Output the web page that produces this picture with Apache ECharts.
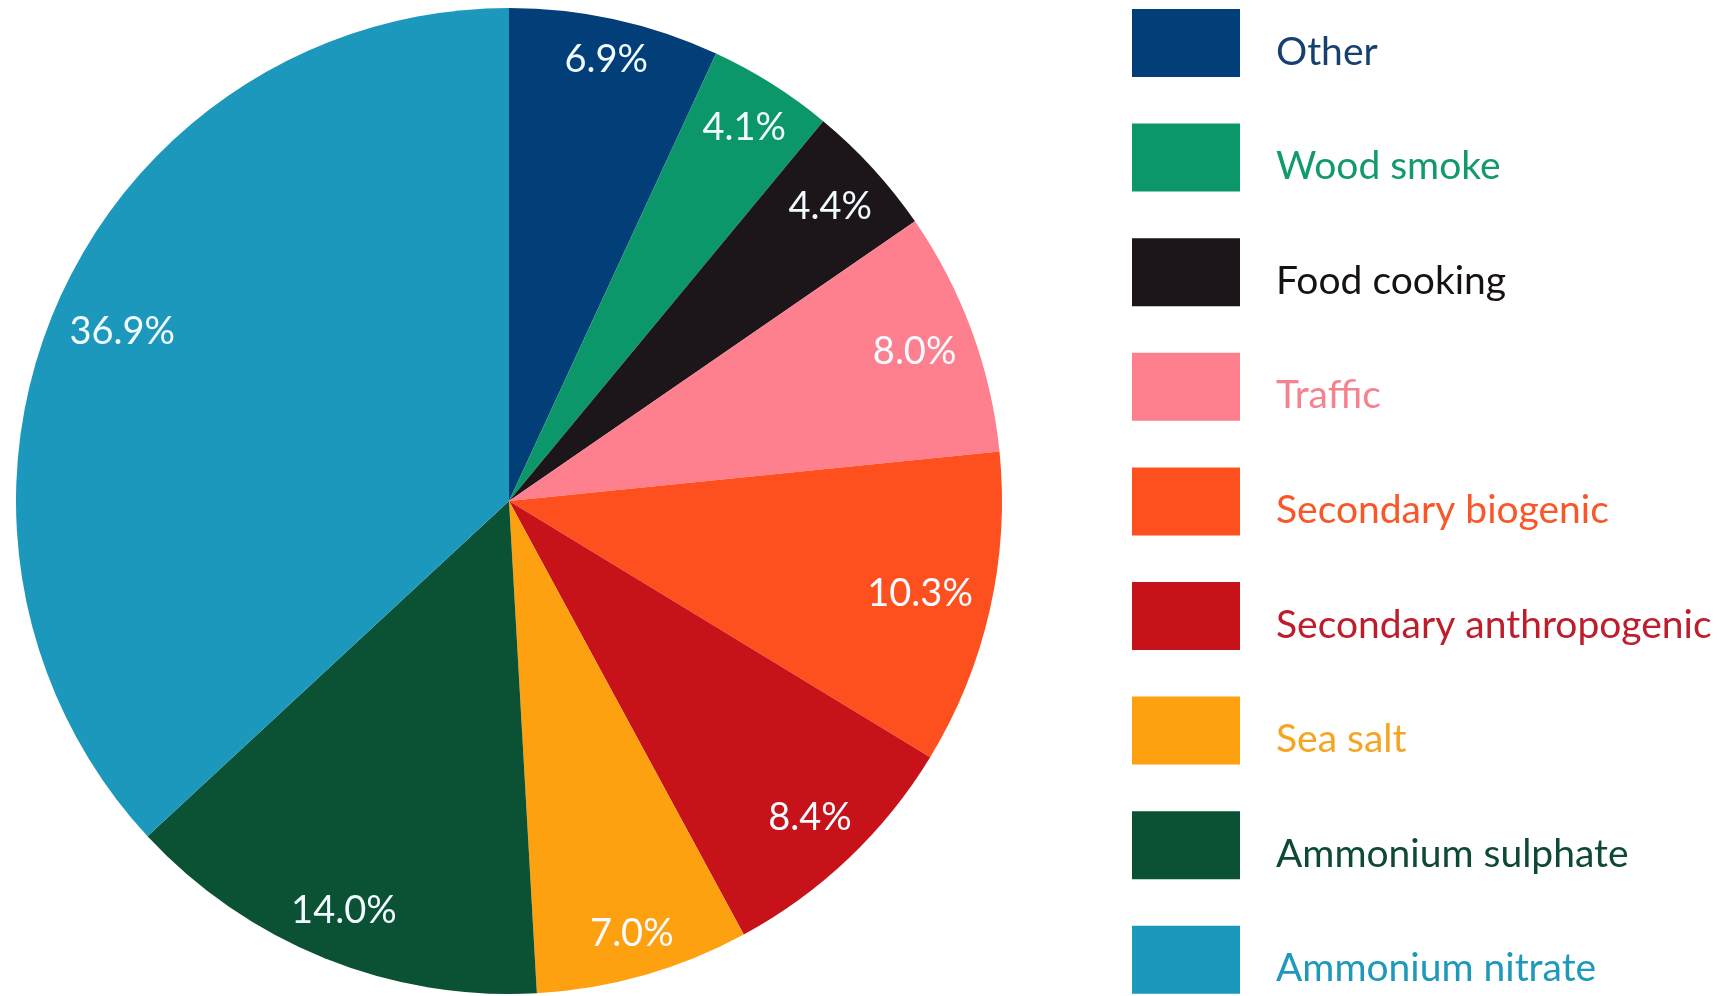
<!DOCTYPE html>
<html>
<head>
<meta charset="utf-8">
<title>PM source apportionment</title>
<script src="https://cdn.jsdelivr.net/npm/echarts@6/dist/echarts.min.js"></script>
<style>
  html, body { margin: 0; padding: 0; background: #ffffff; }
  #chart { width: 1725px; height: 996px; }
</style>
</head>
<body>
<div id="chart"></div>
<script>
// Source contributions (%), clockwise from 12 o'clock
const sources = [
  'Other',
  'Wood smoke',
  'Food cooking',
  'Traffic',
  'Secondary biogenic',
  'Secondary anthropogenic',
  'Sea salt',
  'Ammonium sulphate',
  'Ammonium nitrate'
];
const shares = [6.9, 4.1, 4.4, 8.0, 10.3, 8.4, 7.0, 14.0, 36.9];
const sliceColors = [
  '#023f78', '#0c976b', '#1c1519', '#fe808f', '#fe501f',
  '#c7121a', '#fea111', '#0a5233', '#1c98bd'
];
const legendTextColors = [
  '#16406f', '#119a6e', '#161214', '#f6828f', '#fa5728',
  '#be1d2c', '#f5a521', '#0e4a33', '#1e98bb'
];

const FONT = 'Lato, "Open Sans", sans-serif';
const LABEL_SIZE = 38;
const LEGEND_SIZE = 39;
const CX = 509, CY = 501, R = 493;
const RIM_GAP = 17;   // space kept between a label and the outer arc

const total = shares.reduce((a, b) => a + b, 0);
const midAngles = [];   // radians, clockwise from 12 o'clock
shares.reduce((acc, v) => {
  midAngles.push((acc + v / 2) / total * Math.PI * 2);
  return acc + v;
}, 0);

// Place each label at the outer end of its slice, pushed out as far as the box fits
function insideEnd(params) {
  const a = midAngles[params.dataIndex];
  const ux = Math.sin(a), uy = -Math.cos(a);
  const hw = params.labelRect.width / 2;
  const hh = LABEL_SIZE * 0.36;
  const limit = R - RIM_GAP;
  let lo = 0, hi = R;
  for (let k = 0; k < 40; k++) {
    const d = (lo + hi) / 2;
    const px = d * ux, py = d * uy;
    let far = 0;
    [[-1, -1], [1, -1], [-1, 1], [1, 1]].forEach(([sx, sy]) => {
      far = Math.max(far, Math.hypot(px + sx * hw, py + sy * hh));
    });
    if (far <= limit) lo = d; else hi = d;
  }
  return {
    x: CX + lo * ux,
    y: CY + lo * uy,
    align: 'center',
    verticalAlign: 'middle'
  };
}

const pieData = sources.map((name, i) => ({
  name: name,
  value: shares[i],
  itemStyle: { color: sliceColors[i] }
}));

const chart = echarts.init(document.getElementById('chart'), null, { renderer: 'canvas' });

chart.setOption({
  backgroundColor: '#ffffff',
  animation: false,
  legend: {
    orient: 'vertical',
    left: 1132,
    top: 9,
    padding: 0,
    itemWidth: 108,
    itemHeight: 68,
    itemGap: 46.6,
    icon: 'rect',
    selectedMode: false,
    data: sources.map((name, i) => ({
      name: name,
      itemStyle: { color: sliceColors[i], borderWidth: 0 },
      textStyle: { color: legendTextColors[i] }
    })),
    formatter: name => '{t|' + name + '}',
    textStyle: {
      fontFamily: FONT,
      fontSize: LEGEND_SIZE,
      padding: [0, 0, 0, 31],
      rich: {
        t: {
          fontFamily: FONT,
          fontSize: LEGEND_SIZE,
          padding: [18, 0, 0, 0]
        }
      }
    }
  },
  series: [
    {
      type: 'pie',
      center: [CX, CY],
      radius: [0, R],
      startAngle: 90,
      clockwise: true,
      avoidLabelOverlap: false,
      silent: true,
      label: {
        show: true,
        position: 'inside',
        color: '#f2fbff',
        fontFamily: FONT,
        fontSize: LABEL_SIZE,
        formatter: p => p.value.toFixed(1) + '%'
      },
      labelLayout: insideEnd,
      labelLine: { show: false },
      itemStyle: { borderWidth: 0 },
      data: pieData
    }
  ]
});
</script>
</body>
</html>
